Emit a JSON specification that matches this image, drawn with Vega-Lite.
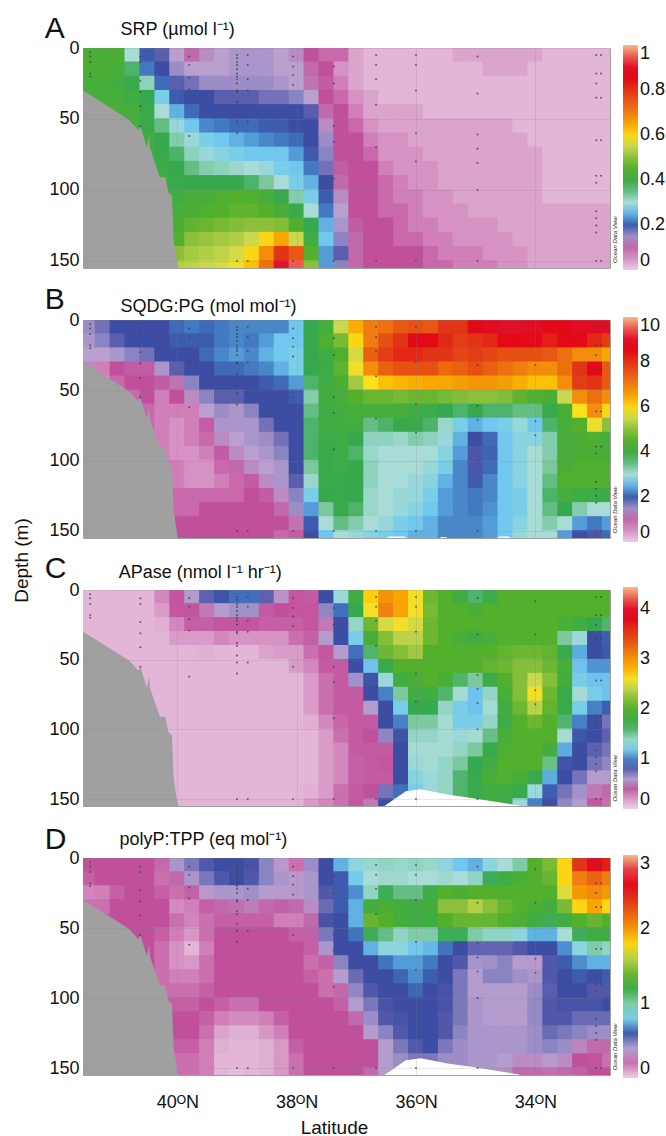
{"$schema":"https://vega.github.io/schema/vega-lite/v6.json","background":"white","padding":{"left":11,"top":13,"right":0,"bottom":0},"spacing":52,"bounds":"flush","resolve":{"scale":{"color":"independent"},"legend":{"color":"independent"}},
"config":{"font":"Liberation Sans","view":{"stroke":"#a0a0a0"},"axis":{"labelFont":"Liberation Sans","titleFont":"Liberation Sans","labelColor":"#111","titleColor":"#111"},"legend":{"labelFont":"Liberation Sans"}},
"datasets":{
"land":[{"x":41.58,"y":30},{"x":40.9,"y":48},{"x":40.8,"y":51},{"x":40.65,"y":58},{"x":40.62,"y":55},{"x":40.51,"y":70},{"x":40.47,"y":62},{"x":40.46,"y":70},{"x":40.39,"y":79},{"x":40.29,"y":91},{"x":40.2,"y":91},{"x":40.15,"y":102},{"x":40.09,"y":104},{"x":40.06,"y":136},{"x":39.99,"y":155}],
"rise":[{"x":36.53,"y":155},{"x":36.17,"y":144.5},{"x":35.92,"y":143},{"x":35.45,"y":147},{"x":35.1,"y":149},{"x":34.3,"y":154.5},{"x":34.25,"y":155}],
"slivers":[{"x":36.5,"y":155},{"x":36.45,"y":154},{"x":36.2,"y":154},{"x":36.15,"y":155},{"x":35.6,"y":155},{"x":35.58,"y":154.2},{"x":35.5,"y":154.2},{"x":35.48,"y":155},{"x":34.65,"y":155},{"x":34.6,"y":154},{"x":34.45,"y":154},{"x":34.4,"y":155}],
"stations":[{"x":41.46,"y":3},{"x":41.46,"y":6},{"x":41.46,"y":10},{"x":41.46,"y":18},{"x":41.46,"y":20},{"x":40.62,"y":6},{"x":40.62,"y":10},{"x":40.62,"y":23},{"x":40.62,"y":31},{"x":40.62,"y":41},{"x":40.62,"y":55},{"x":39.8,"y":6},{"x":39.8,"y":12},{"x":39.8,"y":21},{"x":39.8,"y":29},{"x":39.8,"y":62},{"x":39,"y":5},{"x":39,"y":7},{"x":39,"y":10},{"x":39,"y":12},{"x":39,"y":15},{"x":39,"y":18},{"x":39,"y":20},{"x":39,"y":22},{"x":39,"y":25},{"x":39,"y":30},{"x":39,"y":31},{"x":39,"y":38},{"x":39,"y":40},{"x":39,"y":47},{"x":39,"y":52},{"x":39,"y":60},{"x":39,"y":150},{"x":38.82,"y":5},{"x":38.82,"y":12},{"x":38.82,"y":22},{"x":38.82,"y":30},{"x":38.82,"y":52},{"x":38.82,"y":150},{"x":38.06,"y":6},{"x":38.06,"y":13},{"x":38.06,"y":19},{"x":38.06,"y":26},{"x":38.06,"y":55},{"x":38.06,"y":150},{"x":37.38,"y":13},{"x":37.38,"y":25},{"x":37.38,"y":55},{"x":37.38,"y":66},{"x":37.38,"y":92},{"x":37.38,"y":150},{"x":36.67,"y":5},{"x":36.67,"y":12},{"x":36.67,"y":22},{"x":36.67,"y":40},{"x":36.67,"y":70},{"x":36.67,"y":150},{"x":36,"y":5},{"x":36,"y":12},{"x":36,"y":30},{"x":36,"y":60},{"x":36,"y":80},{"x":36,"y":150},{"x":34.97,"y":6},{"x":34.97,"y":32},{"x":34.97,"y":61},{"x":34.97,"y":71},{"x":34.97,"y":81},{"x":34.97,"y":100},{"x":34.97,"y":150},{"x":34,"y":8},{"x":34,"y":32},{"x":34,"y":72},{"x":34,"y":82},{"x":32.98,"y":5},{"x":32.98,"y":18},{"x":32.98,"y":25},{"x":32.98,"y":35},{"x":32.98,"y":65},{"x":32.98,"y":90},{"x":32.98,"y":95},{"x":32.98,"y":115},{"x":32.98,"y":120},{"x":32.98,"y":125},{"x":32.98,"y":130},{"x":32.98,"y":150},{"x":32.9,"y":5},{"x":32.9,"y":18},{"x":32.9,"y":35},{"x":32.9,"y":65},{"x":32.9,"y":90},{"x":32.9,"y":150}],
"grid":[
{"x":41.5,"y":5,"a":0.43,"b":1.5,"c":0.13,"d":0.24},{"x":41.5,"y":15,"a":0.43,"b":1.4,"c":0.13,"d":0.22},{"x":41.5,"y":25,"a":0.42,"b":1.3,"c":0.13,"d":0.17},{"x":41.5,"y":35,"a":0.42,"b":1.2,"c":0.13,"d":0.2},
{"x":41.25,"y":5,"a":0.43,"b":1.7,"c":0.13,"d":0.24},{"x":41.25,"y":15,"a":0.43,"b":1.6,"c":0.13,"d":0.24},{"x":41.25,"y":25,"a":0.42,"b":1.3,"c":0.13,"d":0.18},{"x":41.25,"y":35,"a":0.42,"b":0.6,"c":0.13,"d":0.2},{"x":41.25,"y":45,"a":0.42,"b":0.5,"c":0.13,"d":0.22},
{"x":41,"y":5,"a":0.43,"b":1.9,"c":0.13,"d":0.24},{"x":41,"y":15,"a":0.42,"b":1.8,"c":0.13,"d":0.24},{"x":41,"y":25,"a":0.41,"b":1.4,"c":0.13,"d":0.22},{"x":41,"y":35,"a":0.42,"b":0.8,"c":0.13,"d":0.24},{"x":41,"y":45,"a":0.42,"b":0.7,"c":0.13,"d":0.24},{"x":41,"y":55,"a":0.42,"b":0.6,"c":0.13,"d":0.24},
{"x":40.75,"y":5,"a":0.3,"b":1.9,"c":0.13,"d":0.24},{"x":40.75,"y":15,"a":0.36,"b":1.9,"c":0.13,"d":0.24},{"x":40.75,"y":25,"a":0.38,"b":1.6,"c":0.13,"d":0.24},{"x":40.75,"y":35,"a":0.4,"b":0.9,"c":0.13,"d":0.24},{"x":40.75,"y":45,"a":0.42,"b":0.8,"c":0.13,"d":0.24},{"x":40.75,"y":55,"a":0.42,"b":0.7,"c":0.13,"d":0.24},
{"x":40.5,"y":5,"a":0.2,"b":1.9,"c":0.13,"d":0.24},{"x":40.5,"y":15,"a":0.22,"b":1.9,"c":0.13,"d":0.24},{"x":40.5,"y":25,"a":0.32,"b":1.7,"c":0.13,"d":0.24},{"x":40.5,"y":35,"a":0.37,"b":0.9,"c":0.13,"d":0.24},{"x":40.5,"y":45,"a":0.38,"b":0.8,"c":0.13,"d":0.24},{"x":40.5,"y":55,"a":0.38,"b":0.8,"c":0.13,"d":0.24},{"x":40.5,"y":65,"a":0.4,"b":0.7,"c":0.13,"d":0.24},{"x":40.5,"y":75,"a":0.4,"b":0.7,"c":0.13,"d":0.24},
{"x":40.25,"y":5,"a":0.18,"b":1.9,"c":0.25,"d":0.3},{"x":40.25,"y":15,"a":0.19,"b":1.9,"c":0.2,"d":0.2},{"x":40.25,"y":25,"a":0.21,"b":1.9,"c":0.15,"d":0.22},{"x":40.25,"y":35,"a":0.27,"b":1.4,"c":0.13,"d":0.24},{"x":40.25,"y":45,"a":0.3,"b":0.9,"c":0.13,"d":0.24},{"x":40.25,"y":55,"a":0.35,"b":0.6,"c":0.13,"d":0.22},{"x":40.25,"y":65,"a":0.37,"b":0.6,"c":0.13,"d":0.2},{"x":40.25,"y":75,"a":0.38,"b":0.6,"c":0.13,"d":0.2},{"x":40.25,"y":85,"a":0.39,"b":0.6,"c":0.13,"d":0.2},{"x":40.25,"y":95,"a":0.4,"b":0.6,"c":0.13,"d":0.2},{"x":40.25,"y":105,"a":0.4,"b":0.6,"c":0.13,"d":0.22},
{"x":40,"y":5,"a":0.13,"b":2.1,"c":0.38,"d":0.42},{"x":40,"y":15,"a":0.15,"b":2,"c":0.35,"d":0.3},{"x":40,"y":25,"a":0.18,"b":1.9,"c":0.25,"d":0.2},{"x":40,"y":35,"a":0.2,"b":1.8,"c":0.2,"d":0.16},{"x":40,"y":45,"a":0.25,"b":1.1,"c":0.13,"d":0.2},{"x":40,"y":55,"a":0.29,"b":0.8,"c":0.13,"d":0.18},{"x":40,"y":65,"a":0.33,"b":0.6,"c":0.13,"d":0.15},{"x":40,"y":75,"a":0.36,"b":0.5,"c":0.13,"d":0.15},{"x":40,"y":85,"a":0.37,"b":0.5,"c":0.13,"d":0.18},{"x":40,"y":95,"a":0.38,"b":0.5,"c":0.13,"d":0.2},{"x":40,"y":105,"a":0.4,"b":0.6,"c":0.13,"d":0.22},{"x":40,"y":115,"a":0.42,"b":0.6,"c":0.13,"d":0.24},{"x":40,"y":125,"a":0.43,"b":0.7,"c":0.13,"d":0.24},{"x":40,"y":135,"a":0.45,"b":0.7,"c":0.13,"d":0.22},{"x":40,"y":145,"a":0.5,"b":0.8,"c":0.13,"d":0.2},{"x":40,"y":155,"a":0.53,"b":0.8,"c":0.13,"d":0.2},
{"x":39.75,"y":5,"a":0.1,"b":2.2,"c":0.6,"d":0.5},{"x":39.75,"y":15,"a":0.13,"b":2,"c":0.38,"d":0.42},{"x":39.75,"y":25,"a":0.17,"b":1.9,"c":0.33,"d":0.28},{"x":39.75,"y":35,"a":0.19,"b":1.9,"c":0.2,"d":0.18},{"x":39.75,"y":45,"a":0.21,"b":1.6,"c":0.13,"d":0.17},{"x":39.75,"y":55,"a":0.26,"b":1.2,"c":0.13,"d":0.14},{"x":39.75,"y":65,"a":0.29,"b":0.6,"c":0.13,"d":0.09},{"x":39.75,"y":75,"a":0.32,"b":0.6,"c":0.13,"d":0.14},{"x":39.75,"y":85,"a":0.35,"b":0.6,"c":0.13,"d":0.18},{"x":39.75,"y":95,"a":0.37,"b":0.5,"c":0.13,"d":0.2},{"x":39.75,"y":105,"a":0.42,"b":0.5,"c":0.13,"d":0.22},{"x":39.75,"y":115,"a":0.43,"b":0.5,"c":0.13,"d":0.24},{"x":39.75,"y":125,"a":0.46,"b":0.7,"c":0.13,"d":0.24},{"x":39.75,"y":135,"a":0.5,"b":0.7,"c":0.13,"d":0.22},{"x":39.75,"y":145,"a":0.52,"b":0.8,"c":0.13,"d":0.2},{"x":39.75,"y":155,"a":0.54,"b":0.8,"c":0.13,"d":0.2},
{"x":39.5,"y":5,"a":0.12,"b":2.1,"c":0.8,"d":0.55},{"x":39.5,"y":15,"a":0.13,"b":2,"c":0.5,"d":0.5},{"x":39.5,"y":25,"a":0.15,"b":2.1,"c":0.33,"d":0.38},{"x":39.5,"y":35,"a":0.19,"b":1.9,"c":0.2,"d":0.22},{"x":39.5,"y":45,"a":0.19,"b":1.9,"c":0.15,"d":0.2},{"x":39.5,"y":55,"a":0.23,"b":1.6,"c":0.13,"d":0.2},{"x":39.5,"y":65,"a":0.27,"b":1.3,"c":0.13,"d":0.18},{"x":39.5,"y":75,"a":0.29,"b":0.9,"c":0.13,"d":0.2},{"x":39.5,"y":85,"a":0.33,"b":0.7,"c":0.13,"d":0.2},{"x":39.5,"y":95,"a":0.37,"b":0.6,"c":0.13,"d":0.22},{"x":39.5,"y":105,"a":0.42,"b":0.5,"c":0.13,"d":0.24},{"x":39.5,"y":115,"a":0.44,"b":0.5,"c":0.13,"d":0.22},{"x":39.5,"y":125,"a":0.47,"b":0.7,"c":0.13,"d":0.2},{"x":39.5,"y":135,"a":0.51,"b":0.8,"c":0.13,"d":0.18},{"x":39.5,"y":145,"a":0.53,"b":0.8,"c":0.13,"d":0.18},{"x":39.5,"y":155,"a":0.55,"b":0.8,"c":0.13,"d":0.18},
{"x":39.25,"y":5,"a":0.13,"b":2.2,"c":0.87,"d":0.57},{"x":39.25,"y":15,"a":0.13,"b":2.2,"c":0.6,"d":0.55},{"x":39.25,"y":25,"a":0.15,"b":2.3,"c":0.35,"d":0.42},{"x":39.25,"y":35,"a":0.18,"b":2.1,"c":0.25,"d":0.3},{"x":39.25,"y":45,"a":0.19,"b":1.9,"c":0.13,"d":0.22},{"x":39.25,"y":55,"a":0.22,"b":1.8,"c":0.13,"d":0.24},{"x":39.25,"y":65,"a":0.26,"b":1.5,"c":0.13,"d":0.24},{"x":39.25,"y":75,"a":0.28,"b":1.4,"c":0.13,"d":0.24},{"x":39.25,"y":85,"a":0.32,"b":1.2,"c":0.13,"d":0.24},{"x":39.25,"y":95,"a":0.37,"b":0.9,"c":0.13,"d":0.24},{"x":39.25,"y":105,"a":0.44,"b":0.7,"c":0.13,"d":0.22},{"x":39.25,"y":115,"a":0.45,"b":0.6,"c":0.13,"d":0.18},{"x":39.25,"y":125,"a":0.48,"b":0.7,"c":0.13,"d":0.12},{"x":39.25,"y":135,"a":0.52,"b":0.8,"c":0.13,"d":0.1},{"x":39.25,"y":145,"a":0.54,"b":0.8,"c":0.13,"d":0.09},{"x":39.25,"y":155,"a":0.56,"b":0.8,"c":0.13,"d":0.09},
{"x":39,"y":5,"a":0.14,"b":2.3,"c":0.95,"d":0.57},{"x":39,"y":15,"a":0.14,"b":2.3,"c":0.65,"d":0.57},{"x":39,"y":25,"a":0.15,"b":2.4,"c":0.35,"d":0.42},{"x":39,"y":35,"a":0.18,"b":2.1,"c":0.22,"d":0.32},{"x":39,"y":45,"a":0.19,"b":1.9,"c":0.13,"d":0.22},{"x":39,"y":55,"a":0.21,"b":1.8,"c":0.13,"d":0.24},{"x":39,"y":65,"a":0.25,"b":1.4,"c":0.13,"d":0.24},{"x":39,"y":75,"a":0.27,"b":1.4,"c":0.13,"d":0.24},{"x":39,"y":85,"a":0.31,"b":1.3,"c":0.13,"d":0.24},{"x":39,"y":95,"a":0.37,"b":1.2,"c":0.13,"d":0.24},{"x":39,"y":105,"a":0.45,"b":1,"c":0.13,"d":0.2},{"x":39,"y":115,"a":0.46,"b":0.7,"c":0.13,"d":0.16},{"x":39,"y":125,"a":0.49,"b":0.7,"c":0.13,"d":0.1},{"x":39,"y":135,"a":0.53,"b":0.8,"c":0.13,"d":0.09},{"x":39,"y":145,"a":0.56,"b":0.8,"c":0.13,"d":0.09},{"x":39,"y":155,"a":0.58,"b":0.8,"c":0.13,"d":0.07},
{"x":38.75,"y":5,"a":0.14,"b":2.3,"c":0.95,"d":0.56},{"x":38.75,"y":15,"a":0.14,"b":2.2,"c":0.65,"d":0.55},{"x":38.75,"y":25,"a":0.15,"b":2.3,"c":0.35,"d":0.44},{"x":38.75,"y":35,"a":0.18,"b":2.2,"c":0.22,"d":0.34},{"x":38.75,"y":45,"a":0.19,"b":1.9,"c":0.13,"d":0.22},{"x":38.75,"y":55,"a":0.21,"b":1.9,"c":0.13,"d":0.24},{"x":38.75,"y":65,"a":0.24,"b":1.6,"c":0.13,"d":0.24},{"x":38.75,"y":75,"a":0.26,"b":1.4,"c":0.13,"d":0.24},{"x":38.75,"y":85,"a":0.3,"b":1.4,"c":0.13,"d":0.24},{"x":38.75,"y":95,"a":0.36,"b":1.3,"c":0.13,"d":0.24},{"x":38.75,"y":105,"a":0.44,"b":1.2,"c":0.13,"d":0.2},{"x":38.75,"y":115,"a":0.46,"b":0.9,"c":0.13,"d":0.16},{"x":38.75,"y":125,"a":0.5,"b":0.8,"c":0.13,"d":0.1},{"x":38.75,"y":135,"a":0.55,"b":0.8,"c":0.13,"d":0.09},{"x":38.75,"y":145,"a":0.6,"b":0.8,"c":0.13,"d":0.09},{"x":38.75,"y":155,"a":0.62,"b":0.8,"c":0.13,"d":0.09},
{"x":38.5,"y":5,"a":0.14,"b":2.3,"c":0.8,"d":0.48},{"x":38.5,"y":15,"a":0.14,"b":2.4,"c":0.4,"d":0.48},{"x":38.5,"y":25,"a":0.15,"b":2.5,"c":0.33,"d":0.4},{"x":38.5,"y":35,"a":0.17,"b":2.3,"c":0.22,"d":0.3},{"x":38.5,"y":45,"a":0.19,"b":2,"c":0.18,"d":0.22},{"x":38.5,"y":55,"a":0.2,"b":1.9,"c":0.13,"d":0.24},{"x":38.5,"y":65,"a":0.23,"b":1.9,"c":0.13,"d":0.24},{"x":38.5,"y":75,"a":0.26,"b":1.7,"c":0.13,"d":0.24},{"x":38.5,"y":85,"a":0.29,"b":1.5,"c":0.13,"d":0.24},{"x":38.5,"y":95,"a":0.34,"b":1.4,"c":0.13,"d":0.24},{"x":38.5,"y":105,"a":0.42,"b":1.3,"c":0.13,"d":0.24},{"x":38.5,"y":115,"a":0.45,"b":1.2,"c":0.13,"d":0.18},{"x":38.5,"y":125,"a":0.5,"b":0.9,"c":0.13,"d":0.14},{"x":38.5,"y":135,"a":0.6,"b":0.8,"c":0.13,"d":0.1},{"x":38.5,"y":145,"a":0.68,"b":0.8,"c":0.13,"d":0.1},{"x":38.5,"y":155,"a":0.72,"b":0.8,"c":0.13,"d":0.1},
{"x":38.25,"y":5,"a":0.13,"b":2.3,"c":0.55,"d":0.38},{"x":38.25,"y":15,"a":0.13,"b":2.6,"c":0.36,"d":0.42},{"x":38.25,"y":25,"a":0.14,"b":2.6,"c":0.33,"d":0.38},{"x":38.25,"y":35,"a":0.17,"b":2.5,"c":0.22,"d":0.28},{"x":38.25,"y":45,"a":0.19,"b":2.1,"c":0.2,"d":0.18},{"x":38.25,"y":55,"a":0.2,"b":1.9,"c":0.13,"d":0.24},{"x":38.25,"y":65,"a":0.22,"b":1.9,"c":0.13,"d":0.24},{"x":38.25,"y":75,"a":0.26,"b":1.9,"c":0.13,"d":0.24},{"x":38.25,"y":85,"a":0.27,"b":1.7,"c":0.13,"d":0.24},{"x":38.25,"y":95,"a":0.3,"b":1.6,"c":0.13,"d":0.24},{"x":38.25,"y":105,"a":0.38,"b":1.4,"c":0.13,"d":0.24},{"x":38.25,"y":115,"a":0.42,"b":1.4,"c":0.13,"d":0.22},{"x":38.25,"y":125,"a":0.49,"b":1.2,"c":0.13,"d":0.18},{"x":38.25,"y":135,"a":0.65,"b":1,"c":0.13,"d":0.14},{"x":38.25,"y":145,"a":0.8,"b":0.8,"c":0.13,"d":0.14},{"x":38.25,"y":155,"a":0.92,"b":0.7,"c":0.13,"d":0.14},
{"x":38,"y":5,"a":0.12,"b":2.6,"c":0.35,"d":0.2},{"x":38,"y":15,"a":0.13,"b":2.6,"c":0.35,"d":0.38},{"x":38,"y":25,"a":0.13,"b":2.7,"c":0.33,"d":0.38},{"x":38,"y":35,"a":0.16,"b":2.7,"c":0.3,"d":0.3},{"x":38,"y":45,"a":0.19,"b":2.4,"c":0.2,"d":0.18},{"x":38,"y":55,"a":0.19,"b":2,"c":0.2,"d":0.22},{"x":38,"y":65,"a":0.21,"b":1.9,"c":0.13,"d":0.24},{"x":38,"y":75,"a":0.24,"b":1.9,"c":0.13,"d":0.24},{"x":38,"y":85,"a":0.26,"b":1.9,"c":0.13,"d":0.24},{"x":38,"y":95,"a":0.27,"b":1.9,"c":0.13,"d":0.24},{"x":38,"y":105,"a":0.33,"b":1.9,"c":0.13,"d":0.24},{"x":38,"y":115,"a":0.38,"b":1.8,"c":0.13,"d":0.24},{"x":38,"y":125,"a":0.44,"b":1.6,"c":0.13,"d":0.24},{"x":38,"y":135,"a":0.55,"b":1.5,"c":0.13,"d":0.22},{"x":38,"y":145,"a":0.75,"b":1.1,"c":0.13,"d":0.2},{"x":38,"y":155,"a":0.95,"b":0.9,"c":0.13,"d":0.2},
{"x":37.75,"y":5,"a":0.08,"b":3.7,"c":0.4,"d":0.45},{"x":37.75,"y":15,"a":0.1,"b":3.7,"c":0.35,"d":0.42},{"x":37.75,"y":25,"a":0.11,"b":3.7,"c":0.35,"d":0.42},{"x":37.75,"y":35,"a":0.13,"b":3.7,"c":0.33,"d":0.36},{"x":37.75,"y":45,"a":0.18,"b":3.6,"c":0.3,"d":0.3},{"x":37.75,"y":55,"a":0.19,"b":3.3,"c":0.25,"d":0.28},{"x":37.75,"y":65,"a":0.19,"b":3.5,"c":0.2,"d":0.22},{"x":37.75,"y":75,"a":0.2,"b":3.6,"c":0.2,"d":0.2},{"x":37.75,"y":85,"a":0.22,"b":3.6,"c":0.2,"d":0.22},{"x":37.75,"y":95,"a":0.25,"b":3.6,"c":0.15,"d":0.24},{"x":37.75,"y":105,"a":0.27,"b":3.4,"c":0.13,"d":0.24},{"x":37.75,"y":115,"a":0.3,"b":3.1,"c":0.13,"d":0.24},{"x":37.75,"y":125,"a":0.37,"b":2.7,"c":0.13,"d":0.24},{"x":37.75,"y":135,"a":0.4,"b":2.4,"c":0.13,"d":0.24},{"x":37.75,"y":145,"a":0.45,"b":2,"c":0.15,"d":0.24},{"x":37.75,"y":155,"a":0.5,"b":1.9,"c":0.2,"d":0.24},
{"x":37.5,"y":5,"a":0.07,"b":4.2,"c":0.85,"d":0.57},{"x":37.5,"y":15,"a":0.08,"b":4.4,"c":0.7,"d":0.57},{"x":37.5,"y":25,"a":0.09,"b":4,"c":0.5,"d":0.55},{"x":37.5,"y":35,"a":0.08,"b":3.9,"c":0.6,"d":0.52},{"x":37.5,"y":45,"a":0.1,"b":4,"c":0.35,"d":0.56},{"x":37.5,"y":55,"a":0.12,"b":4.1,"c":0.34,"d":0.5},{"x":37.5,"y":65,"a":0.15,"b":4,"c":0.3,"d":0.42},{"x":37.5,"y":75,"a":0.16,"b":4,"c":0.3,"d":0.22},{"x":37.5,"y":85,"a":0.17,"b":3.9,"c":0.3,"d":0.2},{"x":37.5,"y":95,"a":0.19,"b":3.8,"c":0.25,"d":0.2},{"x":37.5,"y":105,"a":0.2,"b":3.8,"c":0.2,"d":0.24},{"x":37.5,"y":115,"a":0.22,"b":3.8,"c":0.2,"d":0.24},{"x":37.5,"y":125,"a":0.25,"b":3.7,"c":0.2,"d":0.24},{"x":37.5,"y":135,"a":0.26,"b":3.4,"c":0.2,"d":0.24},{"x":37.5,"y":145,"a":0.24,"b":3,"c":0.2,"d":0.24},{"x":37.5,"y":155,"a":0.24,"b":2.6,"c":0.25,"d":0.24},
{"x":37.25,"y":5,"a":0.07,"b":5.5,"c":1.3,"d":0.75},{"x":37.25,"y":15,"a":0.05,"b":4.8,"c":0.95,"d":0.6},{"x":37.25,"y":25,"a":0.06,"b":4.4,"c":0.85,"d":0.6},{"x":37.25,"y":35,"a":0.07,"b":4.6,"c":0.85,"d":0.6},{"x":37.25,"y":45,"a":0.08,"b":4.3,"c":0.6,"d":0.57},{"x":37.25,"y":55,"a":0.08,"b":4.2,"c":0.4,"d":0.57},{"x":37.25,"y":65,"a":0.08,"b":4.1,"c":0.34,"d":0.57},{"x":37.25,"y":75,"a":0.08,"b":4.1,"c":0.34,"d":0.48},{"x":37.25,"y":85,"a":0.09,"b":4,"c":0.34,"d":0.4},{"x":37.25,"y":95,"a":0.1,"b":3.9,"c":0.32,"d":0.3},{"x":37.25,"y":105,"a":0.12,"b":3.9,"c":0.3,"d":0.22},{"x":37.25,"y":115,"a":0.13,"b":3.8,"c":0.25,"d":0.24},{"x":37.25,"y":125,"a":0.14,"b":3.8,"c":0.25,"d":0.24},{"x":37.25,"y":135,"a":0.16,"b":3.8,"c":0.25,"d":0.24},{"x":37.25,"y":145,"a":0.18,"b":3.5,"c":0.3,"d":0.24},{"x":37.25,"y":155,"a":0.16,"b":3,"c":0.3,"d":0.24},
{"x":37,"y":5,"a":0.04,"b":6.4,"c":1.8,"d":0.85},{"x":37,"y":15,"a":0.04,"b":6,"c":1.65,"d":0.8},{"x":37,"y":25,"a":0.04,"b":5.6,"c":1.4,"d":0.7},{"x":37,"y":35,"a":0.05,"b":5.8,"c":1.2,"d":0.75},{"x":37,"y":45,"a":0.06,"b":5.2,"c":0.95,"d":0.75},{"x":37,"y":55,"a":0.07,"b":4.5,"c":0.85,"d":0.65},{"x":37,"y":65,"a":0.08,"b":4.2,"c":0.65,"d":0.57},{"x":37,"y":75,"a":0.08,"b":4.1,"c":0.4,"d":0.57},{"x":37,"y":85,"a":0.08,"b":3.7,"c":0.34,"d":0.52},{"x":37,"y":95,"a":0.08,"b":3.6,"c":0.34,"d":0.47},{"x":37,"y":105,"a":0.08,"b":3.7,"c":0.34,"d":0.4},{"x":37,"y":115,"a":0.08,"b":3.7,"c":0.34,"d":0.3},{"x":37,"y":125,"a":0.09,"b":3.7,"c":0.33,"d":0.24},{"x":37,"y":135,"a":0.1,"b":3.6,"c":0.33,"d":0.24},{"x":37,"y":145,"a":0.1,"b":3.3,"c":0.34,"d":0.24},{"x":37,"y":155,"a":0.1,"b":2.9,"c":0.35,"d":0.24},
{"x":36.75,"y":5,"a":0.03,"b":7,"c":2.7,"d":0.93},{"x":36.75,"y":15,"a":0.03,"b":7,"c":2.6,"d":0.9},{"x":36.75,"y":25,"a":0.03,"b":7.4,"c":2.1,"d":0.95},{"x":36.75,"y":35,"a":0.04,"b":6.8,"c":1.9,"d":1.25},{"x":36.75,"y":45,"a":0.04,"b":5.9,"c":1.6,"d":1.4},{"x":36.75,"y":55,"a":0.05,"b":4.7,"c":1.15,"d":1.1},{"x":36.75,"y":65,"a":0.06,"b":4.2,"c":0.87,"d":0.75},{"x":36.75,"y":75,"a":0.07,"b":3.5,"c":0.85,"d":0.57},{"x":36.75,"y":85,"a":0.08,"b":3.2,"c":0.6,"d":0.57},{"x":36.75,"y":95,"a":0.08,"b":3.1,"c":0.4,"d":0.55},{"x":36.75,"y":105,"a":0.08,"b":3.2,"c":0.36,"d":0.5},{"x":36.75,"y":115,"a":0.08,"b":3.2,"c":0.34,"d":0.45},{"x":36.75,"y":125,"a":0.08,"b":3.1,"c":0.34,"d":0.4},{"x":36.75,"y":135,"a":0.08,"b":3.1,"c":0.34,"d":0.24},{"x":36.75,"y":145,"a":0.08,"b":3,"c":0.36,"d":0.24},{"x":36.75,"y":155,"a":0.08,"b":2.8,"c":0.5,"d":0.3},
{"x":36.5,"y":5,"a":0.03,"b":7.2,"c":3,"d":0.95},{"x":36.5,"y":15,"a":0.03,"b":7.6,"c":3.1,"d":0.92},{"x":36.5,"y":25,"a":0.03,"b":7.8,"c":2.5,"d":1.1},{"x":36.5,"y":35,"a":0.03,"b":7.4,"c":2.2,"d":1.3},{"x":36.5,"y":45,"a":0.04,"b":6.2,"c":2.1,"d":1.35},{"x":36.5,"y":55,"a":0.04,"b":4.7,"c":1.7,"d":1.05},{"x":36.5,"y":65,"a":0.05,"b":4.2,"c":1.3,"d":0.85},{"x":36.5,"y":75,"a":0.05,"b":3.6,"c":1,"d":0.65},{"x":36.5,"y":85,"a":0.06,"b":3.2,"c":0.85,"d":0.57},{"x":36.5,"y":95,"a":0.07,"b":3,"c":0.85,"d":0.57},{"x":36.5,"y":105,"a":0.07,"b":3,"c":0.7,"d":0.56},{"x":36.5,"y":115,"a":0.07,"b":3,"c":0.4,"d":0.55},{"x":36.5,"y":125,"a":0.08,"b":3,"c":0.35,"d":0.48},{"x":36.5,"y":135,"a":0.08,"b":3,"c":0.4,"d":0.4},{"x":36.5,"y":145,"a":0.08,"b":2.9,"c":0.75,"d":0.4},{"x":36.5,"y":155,"a":0.08,"b":2.7,"c":0.85,"d":0.4},
{"x":36.25,"y":5,"a":0.03,"b":7.5,"c":2.9,"d":0.93},{"x":36.25,"y":15,"a":0.03,"b":8,"c":2.9,"d":0.92},{"x":36.25,"y":25,"a":0.03,"b":8.2,"c":2.6,"d":1.05},{"x":36.25,"y":35,"a":0.03,"b":7.6,"c":2.4,"d":1.25},{"x":36.25,"y":45,"a":0.04,"b":6.3,"c":2.2,"d":1.25},{"x":36.25,"y":55,"a":0.04,"b":4.8,"c":2,"d":0.95},{"x":36.25,"y":65,"a":0.05,"b":4.2,"c":1.8,"d":0.85},{"x":36.25,"y":75,"a":0.05,"b":3.8,"c":1.5,"d":0.72},{"x":36.25,"y":85,"a":0.05,"b":3.1,"c":1.2,"d":0.62},{"x":36.25,"y":95,"a":0.06,"b":3,"c":1,"d":0.57},{"x":36.25,"y":105,"a":0.06,"b":3,"c":0.87,"d":0.57},{"x":36.25,"y":115,"a":0.07,"b":3,"c":0.85,"d":0.56},{"x":36.25,"y":125,"a":0.07,"b":2.9,"c":0.85,"d":0.55},{"x":36.25,"y":135,"a":0.07,"b":2.9,"c":0.85,"d":0.5},{"x":36.25,"y":145,"a":0.08,"b":2.7,"c":0.95,"d":0.45},{"x":36.25,"y":155,"a":0.08,"b":2.6,"c":1.1,"d":0.45},
{"x":36,"y":5,"a":0.03,"b":7.6,"c":2.6,"d":0.95},{"x":36,"y":15,"a":0.03,"b":8.5,"c":2.6,"d":0.9},{"x":36,"y":25,"a":0.03,"b":8.2,"c":2.5,"d":1.05},{"x":36,"y":35,"a":0.03,"b":7.6,"c":2.4,"d":1.2},{"x":36,"y":45,"a":0.04,"b":6.4,"c":2.3,"d":1.2},{"x":36,"y":55,"a":0.04,"b":4.7,"c":2,"d":1},{"x":36,"y":65,"a":0.04,"b":4,"c":1.9,"d":0.78},{"x":36,"y":75,"a":0.05,"b":3.8,"c":1.8,"d":0.72},{"x":36,"y":85,"a":0.05,"b":3.3,"c":1.65,"d":0.7},{"x":36,"y":95,"a":0.05,"b":3,"c":1.5,"d":0.62},{"x":36,"y":105,"a":0.06,"b":3,"c":1.4,"d":0.57},{"x":36,"y":115,"a":0.06,"b":2.9,"c":1.35,"d":0.57},{"x":36,"y":125,"a":0.06,"b":2.9,"c":1.3,"d":0.57},{"x":36,"y":135,"a":0.07,"b":2.8,"c":1.25,"d":0.55},{"x":36,"y":145,"a":0.08,"b":2.6,"c":1.2,"d":0.5},{"x":36,"y":155,"a":0.08,"b":2.5,"c":1.2,"d":0.5},
{"x":35.75,"y":5,"a":0.03,"b":7.5,"c":2.1,"d":0.93},{"x":35.75,"y":15,"a":0.03,"b":8.5,"c":2.15,"d":0.9},{"x":35.75,"y":25,"a":0.03,"b":8,"c":2.1,"d":1.2},{"x":35.75,"y":35,"a":0.03,"b":7.6,"c":2.1,"d":1.25},{"x":35.75,"y":45,"a":0.03,"b":6.5,"c":2,"d":1.2},{"x":35.75,"y":55,"a":0.04,"b":4.7,"c":2,"d":1},{"x":35.75,"y":65,"a":0.04,"b":3.9,"c":2,"d":0.76},{"x":35.75,"y":75,"a":0.04,"b":3.6,"c":1.8,"d":0.66},{"x":35.75,"y":85,"a":0.05,"b":3.2,"c":1.65,"d":0.6},{"x":35.75,"y":95,"a":0.05,"b":3,"c":1.5,"d":0.57},{"x":35.75,"y":105,"a":0.05,"b":2.9,"c":1.4,"d":0.57},{"x":35.75,"y":115,"a":0.05,"b":2.8,"c":1.35,"d":0.57},{"x":35.75,"y":125,"a":0.06,"b":2.7,"c":1.35,"d":0.57},{"x":35.75,"y":135,"a":0.06,"b":2.6,"c":1.3,"d":0.57},{"x":35.75,"y":145,"a":0.07,"b":2.5,"c":1.3,"d":0.5},{"x":35.75,"y":155,"a":0.07,"b":2.5,"c":1.3,"d":0.5},
{"x":35.5,"y":5,"a":0.03,"b":8,"c":2,"d":0.85},{"x":35.5,"y":15,"a":0.03,"b":8.2,"c":2,"d":0.92},{"x":35.5,"y":25,"a":0.03,"b":8,"c":2,"d":1.35},{"x":35.5,"y":35,"a":0.03,"b":7.3,"c":2,"d":1.5},{"x":35.5,"y":45,"a":0.03,"b":6.5,"c":2,"d":1.35},{"x":35.5,"y":55,"a":0.04,"b":4.8,"c":2,"d":1.1},{"x":35.5,"y":65,"a":0.04,"b":3.7,"c":1.9,"d":0.65},{"x":35.5,"y":75,"a":0.04,"b":3.1,"c":1.6,"d":0.57},{"x":35.5,"y":85,"a":0.04,"b":2.9,"c":1.4,"d":0.57},{"x":35.5,"y":95,"a":0.04,"b":2.8,"c":1.35,"d":0.56},{"x":35.5,"y":105,"a":0.05,"b":2.7,"c":1.35,"d":0.56},{"x":35.5,"y":115,"a":0.05,"b":2.5,"c":1.35,"d":0.55},{"x":35.5,"y":125,"a":0.05,"b":2.4,"c":1.4,"d":0.55},{"x":35.5,"y":135,"a":0.06,"b":2.4,"c":1.4,"d":0.5},{"x":35.5,"y":145,"a":0.06,"b":2.3,"c":1.4,"d":0.45},{"x":35.5,"y":155,"a":0.07,"b":2.3,"c":1.4,"d":0.45},
{"x":35.25,"y":5,"a":0.04,"b":8,"c":1.8,"d":0.78},{"x":35.25,"y":15,"a":0.03,"b":7.8,"c":2,"d":0.9},{"x":35.25,"y":25,"a":0.03,"b":7.7,"c":2,"d":1.3},{"x":35.25,"y":35,"a":0.03,"b":7.4,"c":1.9,"d":1.5},{"x":35.25,"y":45,"a":0.03,"b":6.6,"c":2,"d":1.4},{"x":35.25,"y":55,"a":0.04,"b":4.9,"c":2,"d":1.1},{"x":35.25,"y":65,"a":0.04,"b":3.6,"c":1.6,"d":0.57},{"x":35.25,"y":75,"a":0.04,"b":2.7,"c":1.35,"d":0.55},{"x":35.25,"y":85,"a":0.04,"b":2.5,"c":1.2,"d":0.5},{"x":35.25,"y":95,"a":0.04,"b":2.4,"c":1.2,"d":0.5},{"x":35.25,"y":105,"a":0.04,"b":2.3,"c":1.3,"d":0.5},{"x":35.25,"y":115,"a":0.05,"b":2.3,"c":1.4,"d":0.5},{"x":35.25,"y":125,"a":0.05,"b":2.3,"c":1.5,"d":0.48},{"x":35.25,"y":135,"a":0.05,"b":2.3,"c":1.6,"d":0.45},{"x":35.25,"y":145,"a":0.06,"b":2.3,"c":1.6,"d":0.45},{"x":35.25,"y":155,"a":0.06,"b":2.3,"c":1.6,"d":0.45},
{"x":35,"y":5,"a":0.04,"b":8.5,"c":1.6,"d":0.75},{"x":35,"y":15,"a":0.03,"b":8,"c":1.9,"d":0.95},{"x":35,"y":25,"a":0.03,"b":7.8,"c":2,"d":1.35},{"x":35,"y":35,"a":0.03,"b":7.6,"c":1.8,"d":1.6},{"x":35,"y":45,"a":0.03,"b":6.7,"c":2,"d":1.4},{"x":35,"y":55,"a":0.04,"b":5,"c":2,"d":1},{"x":35,"y":65,"a":0.04,"b":3.7,"c":1.5,"d":0.53},{"x":35,"y":75,"a":0.04,"b":2.5,"c":1.15,"d":0.43},{"x":35,"y":85,"a":0.04,"b":1.9,"c":1.15,"d":0.4},{"x":35,"y":95,"a":0.04,"b":1.85,"c":1.2,"d":0.4},{"x":35,"y":105,"a":0.04,"b":1.85,"c":1.35,"d":0.42},{"x":35,"y":115,"a":0.04,"b":2,"c":1.5,"d":0.42},{"x":35,"y":125,"a":0.05,"b":2.2,"c":1.65,"d":0.42},{"x":35,"y":135,"a":0.05,"b":2.2,"c":1.7,"d":0.42},{"x":35,"y":145,"a":0.06,"b":2.3,"c":1.7,"d":0.42},{"x":35,"y":155,"a":0.06,"b":2.3,"c":1.7,"d":0.42},
{"x":34.75,"y":5,"a":0.04,"b":8.7,"c":1.75,"d":0.85},{"x":34.75,"y":15,"a":0.04,"b":8.2,"c":2,"d":1.1},{"x":34.75,"y":25,"a":0.03,"b":7.7,"c":2,"d":1.35},{"x":34.75,"y":35,"a":0.03,"b":7.4,"c":1.9,"d":1.5},{"x":34.75,"y":45,"a":0.03,"b":6.7,"c":2,"d":1.4},{"x":34.75,"y":55,"a":0.04,"b":5,"c":2.05,"d":0.95},{"x":34.75,"y":65,"a":0.04,"b":3.6,"c":1.75,"d":0.53},{"x":34.75,"y":75,"a":0.04,"b":2.6,"c":1.4,"d":0.44},{"x":34.75,"y":85,"a":0.04,"b":2.1,"c":1.35,"d":0.48},{"x":34.75,"y":95,"a":0.04,"b":2.05,"c":1.4,"d":0.4},{"x":34.75,"y":105,"a":0.04,"b":2.1,"c":1.55,"d":0.4},{"x":34.75,"y":115,"a":0.04,"b":2.3,"c":1.7,"d":0.4},{"x":34.75,"y":125,"a":0.05,"b":2.3,"c":1.8,"d":0.42},{"x":34.75,"y":135,"a":0.05,"b":2.35,"c":1.9,"d":0.42},{"x":34.75,"y":145,"a":0.05,"b":2.4,"c":1.8,"d":0.42},{"x":34.75,"y":155,"a":0.06,"b":2.4,"c":1.8,"d":0.42},
{"x":34.5,"y":5,"a":0.04,"b":9,"c":2,"d":0.9},{"x":34.5,"y":15,"a":0.04,"b":8.5,"c":2,"d":1.2},{"x":34.5,"y":25,"a":0.03,"b":7.6,"c":2,"d":1.35},{"x":34.5,"y":35,"a":0.03,"b":7.2,"c":2,"d":1.4},{"x":34.5,"y":45,"a":0.03,"b":6.6,"c":2.05,"d":1.35},{"x":34.5,"y":55,"a":0.04,"b":4.9,"c":2.1,"d":0.95},{"x":34.5,"y":65,"a":0.04,"b":3.6,"c":2,"d":0.53},{"x":34.5,"y":75,"a":0.04,"b":2.7,"c":1.9,"d":0.48},{"x":34.5,"y":85,"a":0.04,"b":2.6,"c":1.8,"d":0.48},{"x":34.5,"y":95,"a":0.04,"b":2.6,"c":1.75,"d":0.4},{"x":34.5,"y":105,"a":0.04,"b":2.6,"c":1.9,"d":0.4},{"x":34.5,"y":115,"a":0.04,"b":2.6,"c":1.95,"d":0.4},{"x":34.5,"y":125,"a":0.04,"b":2.6,"c":2,"d":0.42},{"x":34.5,"y":135,"a":0.05,"b":2.6,"c":1.95,"d":0.42},{"x":34.5,"y":145,"a":0.05,"b":2.6,"c":1.8,"d":0.4},{"x":34.5,"y":155,"a":0.05,"b":2.6,"c":1.7,"d":0.36},
{"x":34.25,"y":5,"a":0.04,"b":9,"c":2,"d":1},{"x":34.25,"y":15,"a":0.04,"b":8.5,"c":2,"d":1.3},{"x":34.25,"y":25,"a":0.03,"b":7.6,"c":2,"d":1.35},{"x":34.25,"y":35,"a":0.03,"b":7,"c":2,"d":1.35},{"x":34.25,"y":45,"a":0.03,"b":6.4,"c":2.1,"d":1.3},{"x":34.25,"y":55,"a":0.03,"b":4.6,"c":2.2,"d":0.85},{"x":34.25,"y":65,"a":0.04,"b":3.5,"c":2.2,"d":0.55},{"x":34.25,"y":75,"a":0.04,"b":2.9,"c":2.2,"d":0.4},{"x":34.25,"y":85,"a":0.04,"b":2.8,"c":2.1,"d":0.44},{"x":34.25,"y":95,"a":0.04,"b":2.8,"c":2,"d":0.4},{"x":34.25,"y":105,"a":0.04,"b":2.8,"c":2,"d":0.4},{"x":34.25,"y":115,"a":0.04,"b":2.8,"c":2,"d":0.4},{"x":34.25,"y":125,"a":0.04,"b":2.7,"c":2,"d":0.42},{"x":34.25,"y":135,"a":0.04,"b":2.7,"c":1.9,"d":0.42},{"x":34.25,"y":145,"a":0.05,"b":2.8,"c":1.7,"d":0.36},{"x":34.25,"y":155,"a":0.05,"b":2.9,"c":1.3,"d":0.3},
{"x":34,"y":5,"a":0.04,"b":8.8,"c":2,"d":1.35},{"x":34,"y":15,"a":0.03,"b":8.6,"c":2,"d":1.35},{"x":34,"y":25,"a":0.03,"b":7.6,"c":2,"d":1.35},{"x":34,"y":35,"a":0.03,"b":6.8,"c":2,"d":1.3},{"x":34,"y":45,"a":0.03,"b":6.2,"c":2.1,"d":1.2},{"x":34,"y":55,"a":0.03,"b":4.4,"c":2.2,"d":0.75},{"x":34,"y":65,"a":0.03,"b":3.5,"c":2.45,"d":0.57},{"x":34,"y":75,"a":0.04,"b":2.6,"c":2.6,"d":0.38},{"x":34,"y":85,"a":0.04,"b":2.8,"c":2.4,"d":0.42},{"x":34,"y":95,"a":0.04,"b":3,"c":2.1,"d":0.45},{"x":34,"y":105,"a":0.04,"b":3,"c":2,"d":0.46},{"x":34,"y":115,"a":0.04,"b":3,"c":2,"d":0.46},{"x":34,"y":125,"a":0.04,"b":3,"c":2,"d":0.45},{"x":34,"y":135,"a":0.04,"b":3,"c":1.7,"d":0.45},{"x":34,"y":145,"a":0.04,"b":3,"c":1.3,"d":0.36},{"x":34,"y":155,"a":0.04,"b":3,"c":1,"d":0.3},
{"x":33.75,"y":5,"a":0.03,"b":8.5,"c":2,"d":1.45},{"x":33.75,"y":15,"a":0.03,"b":8.3,"c":2,"d":1.4},{"x":33.75,"y":25,"a":0.03,"b":7.5,"c":2,"d":1.35},{"x":33.75,"y":35,"a":0.03,"b":6.8,"c":2,"d":1.25},{"x":33.75,"y":45,"a":0.03,"b":6.2,"c":2.05,"d":1.1},{"x":33.75,"y":55,"a":0.03,"b":4.3,"c":2.1,"d":0.75},{"x":33.75,"y":65,"a":0.03,"b":3.8,"c":2.2,"d":0.57},{"x":33.75,"y":75,"a":0.03,"b":3.6,"c":2.1,"d":0.55},{"x":33.75,"y":85,"a":0.03,"b":3.3,"c":2.05,"d":0.55},{"x":33.75,"y":95,"a":0.03,"b":3.3,"c":2,"d":0.54},{"x":33.75,"y":105,"a":0.03,"b":3.4,"c":2,"d":0.55},{"x":33.75,"y":115,"a":0.04,"b":3.5,"c":1.85,"d":0.55},{"x":33.75,"y":125,"a":0.04,"b":3.6,"c":1.55,"d":0.52},{"x":33.75,"y":135,"a":0.04,"b":3.5,"c":1.1,"d":0.48},{"x":33.75,"y":145,"a":0.04,"b":3.3,"c":0.9,"d":0.38},{"x":33.75,"y":155,"a":0.04,"b":3,"c":0.85,"d":0.32},
{"x":33.5,"y":5,"a":0.03,"b":8.5,"c":2,"d":1.8},{"x":33.5,"y":15,"a":0.03,"b":8.5,"c":2,"d":1.8},{"x":33.5,"y":25,"a":0.03,"b":7.2,"c":1.9,"d":1.7},{"x":33.5,"y":35,"a":0.03,"b":7.2,"c":1.5,"d":1.45},{"x":33.5,"y":45,"a":0.03,"b":6.8,"c":1.7,"d":1.2},{"x":33.5,"y":55,"a":0.03,"b":5.5,"c":1.9,"d":0.9},{"x":33.5,"y":65,"a":0.03,"b":4.3,"c":1.85,"d":0.7},{"x":33.5,"y":75,"a":0.03,"b":4.2,"c":1.7,"d":0.6},{"x":33.5,"y":85,"a":0.03,"b":4.2,"c":1.7,"d":0.57},{"x":33.5,"y":95,"a":0.03,"b":4.2,"c":1.6,"d":0.57},{"x":33.5,"y":105,"a":0.03,"b":4.3,"c":1.35,"d":0.56},{"x":33.5,"y":115,"a":0.04,"b":4.4,"c":1.1,"d":0.55},{"x":33.5,"y":125,"a":0.04,"b":4.2,"c":0.87,"d":0.5},{"x":33.5,"y":135,"a":0.04,"b":3.7,"c":0.85,"d":0.45},{"x":33.5,"y":145,"a":0.04,"b":3,"c":0.75,"d":0.36},{"x":33.5,"y":155,"a":0.04,"b":2.4,"c":0.7,"d":0.3},
{"x":33.25,"y":5,"a":0.03,"b":8.8,"c":2,"d":2.4},{"x":33.25,"y":15,"a":0.03,"b":8.5,"c":2,"d":2.1},{"x":33.25,"y":25,"a":0.03,"b":6.8,"c":1.8,"d":2},{"x":33.25,"y":35,"a":0.03,"b":8,"c":1.3,"d":1.8},{"x":33.25,"y":45,"a":0.03,"b":7.8,"c":1.1,"d":1.35},{"x":33.25,"y":55,"a":0.03,"b":6.8,"c":1.15,"d":1.1},{"x":33.25,"y":65,"a":0.03,"b":5.9,"c":1.2,"d":0.85},{"x":33.25,"y":75,"a":0.03,"b":4.5,"c":1.35,"d":0.7},{"x":33.25,"y":85,"a":0.03,"b":4.3,"c":1.2,"d":0.6},{"x":33.25,"y":95,"a":0.03,"b":4.3,"c":1,"d":0.57},{"x":33.25,"y":105,"a":0.03,"b":4.4,"c":0.88,"d":0.56},{"x":33.25,"y":115,"a":0.04,"b":4.4,"c":0.85,"d":0.52},{"x":33.25,"y":125,"a":0.04,"b":4,"c":0.85,"d":0.48},{"x":33.25,"y":135,"a":0.04,"b":3.3,"c":0.75,"d":0.35},{"x":33.25,"y":145,"a":0.04,"b":2.4,"c":0.65,"d":0.24},{"x":33.25,"y":155,"a":0.04,"b":1.9,"c":0.6,"d":0.22},
{"x":33,"y":5,"a":0.03,"b":8.8,"c":2,"d":2.6},{"x":33,"y":15,"a":0.03,"b":8.2,"c":2,"d":2.2},{"x":33,"y":25,"a":0.03,"b":6.8,"c":1.65,"d":2.05},{"x":33,"y":35,"a":0.03,"b":8.5,"c":0.85,"d":1.95},{"x":33,"y":45,"a":0.03,"b":8,"c":0.85,"d":1.4},{"x":33,"y":55,"a":0.03,"b":7.2,"c":1.05,"d":1.2},{"x":33,"y":65,"a":0.03,"b":6.8,"c":1.15,"d":1},{"x":33,"y":75,"a":0.03,"b":5.8,"c":1.2,"d":0.75},{"x":33,"y":85,"a":0.03,"b":4.4,"c":1,"d":0.57},{"x":33,"y":95,"a":0.03,"b":4.3,"c":0.85,"d":0.55},{"x":33,"y":105,"a":0.03,"b":4.4,"c":0.85,"d":0.56},{"x":33,"y":115,"a":0.04,"b":4.4,"c":0.8,"d":0.52},{"x":33,"y":125,"a":0.04,"b":3.9,"c":0.75,"d":0.45},{"x":33,"y":135,"a":0.04,"b":3,"c":0.6,"d":0.3},{"x":33,"y":145,"a":0.04,"b":2.2,"c":0.5,"d":0.25},{"x":33,"y":155,"a":0.04,"b":1.85,"c":0.35,"d":0.24},
{"x":32.75,"y":5,"a":0.03,"b":8.8,"c":2,"d":2.5},{"x":32.75,"y":15,"a":0.03,"b":7.8,"c":2,"d":2.1},{"x":32.75,"y":25,"a":0.03,"b":6.5,"c":1.6,"d":2},{"x":32.75,"y":35,"a":0.03,"b":7.5,"c":0.9,"d":1.8},{"x":32.75,"y":45,"a":0.03,"b":7.5,"c":0.88,"d":1.35},{"x":32.75,"y":55,"a":0.03,"b":6.8,"c":1.05,"d":1.2},{"x":32.75,"y":65,"a":0.03,"b":6,"c":1.15,"d":0.95},{"x":32.75,"y":75,"a":0.03,"b":5,"c":1.15,"d":0.75},{"x":32.75,"y":85,"a":0.03,"b":4.2,"c":0.9,"d":0.6},{"x":32.75,"y":95,"a":0.03,"b":4.2,"c":0.75,"d":0.55},{"x":32.75,"y":105,"a":0.03,"b":4.4,"c":0.8,"d":0.57},{"x":32.75,"y":115,"a":0.04,"b":4.4,"c":0.75,"d":0.52},{"x":32.75,"y":125,"a":0.04,"b":3.9,"c":0.7,"d":0.45},{"x":32.75,"y":135,"a":0.04,"b":3,"c":0.6,"d":0.3},{"x":32.75,"y":145,"a":0.04,"b":2.4,"c":0.45,"d":0.2},{"x":32.75,"y":155,"a":0.04,"b":2.1,"c":0.3,"d":0.24}
]},
"vconcat":[
{"width":527,"height":220,"encoding":{"x":{"field":"x","type":"quantitative","scale":{"domain":[41.58,32.75]},"axis":{"values":[40,38,36,34],"labels":false,"ticks":false,"domain":false,"title":null,"grid":true,"gridColor":"#808080","gridOpacity":0.2,"zindex":1}},"y":{"field":"y","type":"quantitative","scale":{"domain":[0,155],"reverse":true},"axis":{"values":[0,50,100,150],"labelFontSize":18,"labelPadding":4,"ticks":false,"domain":false,"title":null,"grid":true,"gridColor":"#808080","gridOpacity":0.2,"zindex":1}}},"layer":[
{"data":{"name":"grid"},"mark":{"type":"rect","width":16,"height":15.5,"clip":true},"encoding":{"color":{"field":"a","type":"quantitative","scale":{"domain":[0,0.03,0.04,0.06,0.08,0.11,0.13,0.16,0.19,0.23,0.26,0.3,0.34,0.37,0.45,0.5,0.55,0.59,0.63,0.7,0.78,0.85,0.92,0.96,1],"range":["#ecd0e6","#e3b6d8","#dba4cd","#d07fb8","#c1509c","#c074b3","#b9a0cf","#8b84c2","#3d4da3","#4a87c9","#72c7ef","#a9dcd6","#7cc79b","#36a94f","#52b02c","#8cc03c","#c9d84e","#fae11c","#f9b606","#ef7d12","#e23e16","#e30917","#e01430","#ed6c60","#f4ba8e"]},"legend":{"orient":"none","legendX":540,"legendY":-3,"title":null,"gradientLength":225,"gradientThickness":15,"values":[0,0.2,0.4,0.6,0.8,1],"format":"~g","labelFontSize":18,"labelColor":"#111"}}}},
{"data":{"name":"land"},"mark":{"type":"area","color":"#a0a0a0","clip":true},"encoding":{"y2":{"datum":155}}},
{"data":{"name":"stations"},"transform":[{"filter":"datum.x != 34"}],"mark":{"type":"circle","size":4,"color":"#444","opacity":0.8}},
{"data":{"values":[{"x":42.22,"y":-7,"t":"A"}]},"mark":{"type":"text","align":"left","baseline":"alphabetic","fontSize":30,"color":"#111"},"encoding":{"text":{"field":"t"}}},
{"data":{"values":[{"x":40.95,"y":-9.5,"t":"SRP (µmol l⁻¹)"}]},"mark":{"type":"text","align":"left","baseline":"alphabetic","fontSize":18,"color":"#111"},"encoding":{"text":{"field":"t"}}},
{"data":{"values":[{"x":32.66,"y":135,"t":"Ocean Data View"}]},"mark":{"type":"text","angle":270,"fontSize":6,"fontStyle":"italic","color":"#222"},"encoding":{"text":{"field":"t"}}}
]},
{"width":527,"height":218,"encoding":{"x":{"field":"x","type":"quantitative","scale":{"domain":[41.58,32.75]},"axis":{"values":[40,38,36,34],"labels":false,"ticks":false,"domain":false,"title":null,"grid":true,"gridColor":"#808080","gridOpacity":0.2,"zindex":1}},"y":{"field":"y","type":"quantitative","scale":{"domain":[0,155],"reverse":true},"axis":{"values":[0,50,100,150],"labelFontSize":18,"labelPadding":4,"ticks":false,"domain":false,"title":null,"grid":true,"gridColor":"#808080","gridOpacity":0.2,"zindex":1}}},"layer":[
{"data":{"name":"grid"},"mark":{"type":"rect","width":16,"height":15.5,"clip":true},"encoding":{"color":{"field":"b","type":"quantitative","scale":{"domain":[0,0.3,0.4,0.6,0.8,1.1,1.3,1.6,1.9,2.3,2.6,3,3.4,3.7,4.5,5,5.5,5.9,6.3,7,7.8,8.5,9.2,9.6,10],"range":["#ecd0e6","#e3b6d8","#dba4cd","#d07fb8","#c1509c","#c074b3","#b9a0cf","#8b84c2","#3d4da3","#4a87c9","#72c7ef","#a9dcd6","#7cc79b","#36a94f","#52b02c","#8cc03c","#c9d84e","#fae11c","#f9b606","#ef7d12","#e23e16","#e30917","#e01430","#ed6c60","#f4ba8e"]},"legend":{"orient":"none","legendX":540,"legendY":-3,"title":null,"gradientLength":225,"gradientThickness":15,"values":[0,2,4,6,8,10],"labelFontSize":18,"labelColor":"#111"}}}},
{"data":{"name":"land"},"mark":{"type":"area","color":"#a0a0a0","clip":true},"encoding":{"y2":{"datum":155}}},
{"data":{"name":"slivers"},"mark":{"type":"area","color":"white","clip":true},"encoding":{"y2":{"datum":155}}},
{"data":{"name":"stations"},"mark":{"type":"circle","size":4,"color":"#444","opacity":0.8}},
{"data":{"values":[{"x":42.22,"y":-8,"t":"B"}]},"mark":{"type":"text","align":"left","baseline":"alphabetic","fontSize":30,"color":"#111"},"encoding":{"text":{"field":"t"}}},
{"data":{"values":[{"x":40.95,"y":-5.6,"t":"SQDG:PG (mol mol⁻¹)"}]},"mark":{"type":"text","align":"left","baseline":"alphabetic","fontSize":18,"color":"#111"},"encoding":{"text":{"field":"t"}}},
{"data":{"values":[{"x":32.66,"y":135,"t":"Ocean Data View"}]},"mark":{"type":"text","angle":270,"fontSize":6,"fontStyle":"italic","color":"#222"},"encoding":{"text":{"field":"t"}}}
]},
{"width":527,"height":216,"encoding":{"x":{"field":"x","type":"quantitative","scale":{"domain":[41.58,32.75]},"axis":{"values":[40,38,36,34],"labels":false,"ticks":false,"domain":false,"title":null,"grid":true,"gridColor":"#808080","gridOpacity":0.2,"zindex":1}},"y":{"field":"y","type":"quantitative","scale":{"domain":[0,155],"reverse":true},"axis":{"values":[0,50,100,150],"labelFontSize":18,"labelPadding":4,"ticks":false,"domain":false,"title":"Depth (m)","titleFontSize":19,"titleFontWeight":"normal","titleX":-52,"titleY":-30,"grid":true,"gridColor":"#808080","gridOpacity":0.2,"zindex":1}}},"layer":[
{"data":{"name":"grid"},"mark":{"type":"rect","width":16,"height":15.5,"clip":true},"encoding":{"color":{"field":"c","type":"quantitative","scale":{"domain":[0,0.13,0.18,0.27,0.36,0.49,0.58,0.71,0.85,1.02,1.16,1.34,1.51,1.65,2,2.23,2.45,2.63,2.8,3.12,3.47,3.78,4.09,4.27,4.45],"range":["#ecd0e6","#e3b6d8","#dba4cd","#d07fb8","#c1509c","#c074b3","#b9a0cf","#8b84c2","#3d4da3","#4a87c9","#72c7ef","#a9dcd6","#7cc79b","#36a94f","#52b02c","#8cc03c","#c9d84e","#fae11c","#f9b606","#ef7d12","#e23e16","#e30917","#e01430","#ed6c60","#f4ba8e"]},"legend":{"orient":"none","legendX":540,"legendY":-3,"title":null,"gradientLength":222,"gradientThickness":15,"values":[0,1,2,3,4],"labelFontSize":18,"labelColor":"#111"}}}},
{"data":{"name":"land"},"mark":{"type":"area","color":"#a0a0a0","clip":true},"encoding":{"y2":{"datum":155}}},
{"data":{"name":"rise"},"mark":{"type":"area","color":"white","clip":true},"encoding":{"y2":{"datum":155}}},
{"data":{"name":"stations"},"mark":{"type":"circle","size":4,"color":"#444","opacity":0.8}},
{"data":{"values":[{"x":42.22,"y":-8.6,"t":"C"}]},"mark":{"type":"text","align":"left","baseline":"alphabetic","fontSize":30,"color":"#111"},"encoding":{"text":{"field":"t"}}},
{"data":{"values":[{"x":40.98,"y":-8.6,"t":"APase (nmol l⁻¹ hr⁻¹)"}]},"mark":{"type":"text","align":"left","baseline":"alphabetic","fontSize":18,"color":"#111"},"encoding":{"text":{"field":"t"}}},
{"data":{"values":[{"x":32.66,"y":135,"t":"Ocean Data View"}]},"mark":{"type":"text","angle":270,"fontSize":6,"fontStyle":"italic","color":"#222"},"encoding":{"text":{"field":"t"}}}
]},
{"width":527,"height":217,"encoding":{"x":{"field":"x","type":"quantitative","scale":{"domain":[41.58,32.75]},"axis":{"values":[40,38,36,34],"labelExpr":"datum.value + 'ᴼN'","labelFontSize":18,"labelPadding":18,"ticks":false,"domain":false,"title":"Latitude","titleFontSize":19,"titleFontWeight":"normal","titleX":251,"titleY":43,"grid":true,"gridColor":"#808080","gridOpacity":0.2,"zindex":1}},"y":{"field":"y","type":"quantitative","scale":{"domain":[0,155],"reverse":true},"axis":{"values":[0,50,100,150],"labelFontSize":18,"labelPadding":4,"ticks":false,"domain":false,"title":null,"grid":true,"gridColor":"#808080","gridOpacity":0.2,"zindex":1}}},"layer":[
{"data":{"name":"grid"},"mark":{"type":"rect","width":16,"height":15.5,"clip":true},"encoding":{"color":{"field":"d","type":"quantitative","scale":{"domain":[0,0.09,0.12,0.18,0.24,0.33,0.39,0.48,0.57,0.69,0.78,0.9,1.02,1.11,1.35,1.5,1.65,1.77,1.89,2.1,2.34,2.55,2.76,2.88,3],"range":["#ecd0e6","#e3b6d8","#dba4cd","#d07fb8","#c1509c","#c074b3","#b9a0cf","#8b84c2","#3d4da3","#4a87c9","#72c7ef","#a9dcd6","#7cc79b","#36a94f","#52b02c","#8cc03c","#c9d84e","#fae11c","#f9b606","#ef7d12","#e23e16","#e30917","#e01430","#ed6c60","#f4ba8e"]},"legend":{"orient":"none","legendX":540,"legendY":-3,"title":null,"gradientLength":223,"gradientThickness":15,"values":[0,1,2,3],"labelFontSize":18,"labelColor":"#111"}}}},
{"data":{"name":"land"},"mark":{"type":"area","color":"#a0a0a0","clip":true},"encoding":{"y2":{"datum":155}}},
{"data":{"name":"rise"},"mark":{"type":"area","color":"white","clip":true},"encoding":{"y2":{"datum":155}}},
{"data":{"name":"stations"},"mark":{"type":"circle","size":4,"color":"#444","opacity":0.8}},
{"data":{"values":[{"x":42.22,"y":-6.4,"t":"D"}]},"mark":{"type":"text","align":"left","baseline":"alphabetic","fontSize":30,"color":"#111"},"encoding":{"text":{"field":"t"}}},
{"data":{"values":[{"x":40.97,"y":-9,"t":"polyP:TPP (eq mol⁻¹)"}]},"mark":{"type":"text","align":"left","baseline":"alphabetic","fontSize":18,"color":"#111"},"encoding":{"text":{"field":"t"}}},
{"data":{"values":[{"x":32.66,"y":135,"t":"Ocean Data View"}]},"mark":{"type":"text","angle":270,"fontSize":6,"fontStyle":"italic","color":"#222"},"encoding":{"text":{"field":"t"}}}
]}
]}
